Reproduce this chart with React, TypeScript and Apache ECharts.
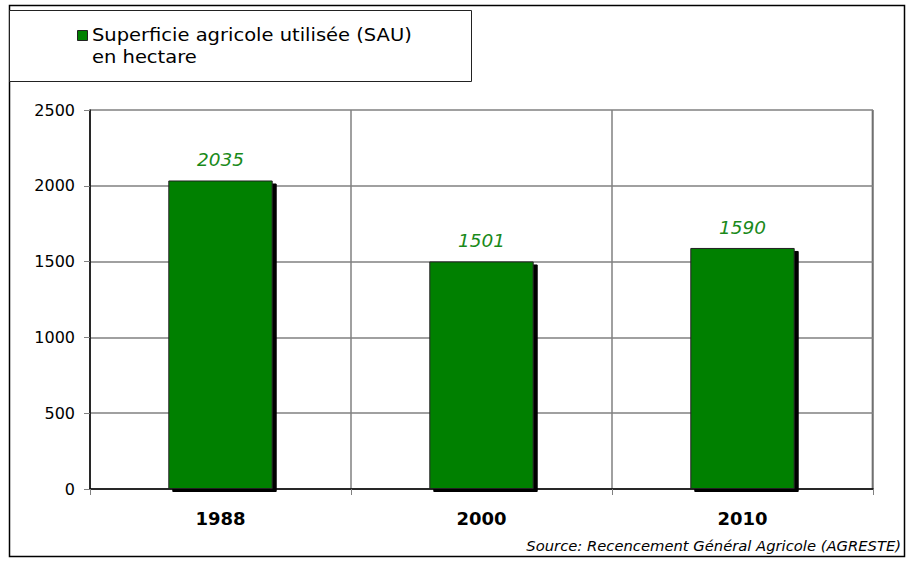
import React, { useEffect, useRef } from "react";
import * as echarts from "echarts";

const categories = ["1988", "2000", "2010"];
const sauValues = [2035, 1501, 1590];
const yTicks = { min: 0, max: 2500, interval: 500 };
const legendLines = ["Superficie agricole utilisée (SAU)", "en hectare"];
const sourceText = "Source: Recencement Général Agricole (AGRESTE)";

const FONT = "'DejaVu Sans', Verdana, sans-serif";

export default function App() {
  const ref = useRef<HTMLDivElement>(null);
  useEffect(() => {
    if (!ref.current) return;
    const chart = echarts.init(ref.current, null, { renderer: "svg" });
    chart.setOption({
      animation: false,
      backgroundColor: "#ffffff",
      textStyle: { fontFamily: FONT },
      grid: { left: 90, right: 37, top: 110, bottom: 74, show: false },
      xAxis: {
        type: "category",
        data: categories,
        boundaryGap: true,
        axisLine: { show: true, lineStyle: { color: "#000", width: 1.5 } },
        axisTick: { show: true, length: 6, alignWithLabel: false, lineStyle: { color: "#808080" } },
        axisLabel: { margin: 20, fontSize: 18, fontWeight: "bold", color: "#000", fontFamily: FONT },
        splitLine: { show: true, lineStyle: { color: "#808080", width: 1.5 } },
      },
      yAxis: {
        type: "value",
        min: yTicks.min,
        max: yTicks.max,
        interval: yTicks.interval,
        axisLine: { show: true, lineStyle: { color: "#000", width: 1.5 } },
        axisTick: { show: true, length: 6, lineStyle: { color: "#808080" } },
        axisLabel: {
          margin: 15,
          fontSize: 16,
          color: "#000",
          fontFamily: FONT,
          formatter: (v: number) => String(v),
        },
        splitLine: { show: true, lineStyle: { color: "#808080", width: 1.5 } },
      },
      series: [
        {
          type: "bar",
          name: legendLines.join(" "),
          data: sauValues,
          barWidth: "40%",
          itemStyle: {
            color: "#008000",
            borderColor: "#222",
            borderWidth: 1,
            shadowColor: "#000",
            shadowBlur: 0,
            shadowOffsetX: 4,
            shadowOffsetY: 3,
          },
          label: {
            show: true,
            position: "top",
            distance: 11,
            fontSize: 18.5,
            fontStyle: "italic",
            color: "#1a8a1a",
            fontFamily: FONT,
          },
        },
      ],
      graphic: [
        {
          type: "rect",
          shape: { x: 9.5, y: 5.5, width: 895, height: 551 },
          style: { fill: "none", stroke: "#000", lineWidth: 1.5 },
          silent: true,
        },
        {
          type: "rect",
          shape: { x: 9.5, y: 10.5, width: 462, height: 71 },
          style: { fill: "#fff", stroke: "#222", lineWidth: 1 },
          silent: true,
        },
        {
          type: "rect",
          shape: { x: 77.5, y: 30.5, width: 10, height: 10 },
          style: { fill: "#008000", stroke: "#222", lineWidth: 1 },
          silent: true,
        },
        {
          type: "text",
          x: 92,
          y: 24,
          scaleX: 1.147,
          style: {
            text: legendLines[0] + "\n" + legendLines[1],
            fontSize: 17,
            lineHeight: 22,
            fill: "#000",
            fontFamily: FONT,
          },
          silent: true,
        },
        {
          type: "text",
          right: 9,
          top: 538,
          style: {
            text: sourceText,
            fontSize: 14.75,
            fontStyle: "italic",
            fill: "#000",
            fontFamily: FONT,
          },
          silent: true,
        },
        {
          type: "line",
          shape: { x1: 872.5, y1: 110, x2: 872.5, y2: 489 },
          style: { stroke: "#404040", lineWidth: 1.5 },
          silent: true,
        },
      ],
    });
    return () => chart.dispose();
  }, []);
  return <div ref={ref} style={{ width: 910, height: 563, position: "absolute", left: 0, top: 0 }} />;
}
